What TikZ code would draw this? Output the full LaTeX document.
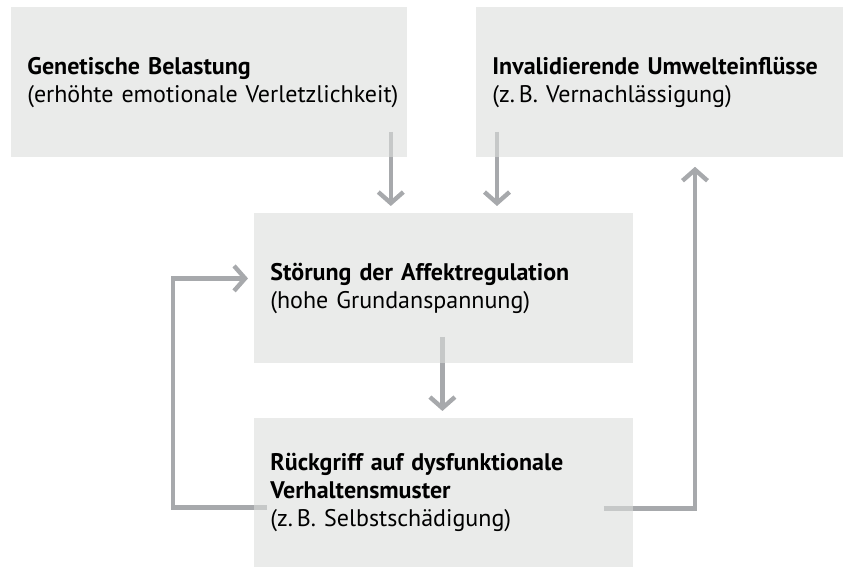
\documentclass[tikz,border=0pt]{standalone}
\usepackage{fontspec}
\setmainfont{PT Sans}
\usetikzlibrary{arrows.meta,calc,backgrounds}
\definecolor{boxgray}{RGB}{220,222,220}
\definecolor{arrowgray}{RGB}{167,169,172}
\tikzset{
	infobox/.style={fill=boxgray, fill opacity=0.6, text opacity=1, anchor=north west,
		align=left, inner xsep=8pt, minimum height=75pt,
		font=\fontsize{12}{14}\selectfont},
	flow/.style={draw=arrowgray, line width=2.2pt, -{Straight Barb[length=5.5pt,width=12.5pt]}}
}

\begin{document}
\begin{tikzpicture}[x=0.5pt, y=0.5pt]
	\useasboundingbox (0,0) rectangle (843,-567);
	% boxes
	\node[infobox, text width=182pt] (gen) at (11,-7)
		{\textbf{Genetische Belastung}\\\mbox{(erhöhte emotionale Verletzlichkeit)}};
	\node[infobox, text width=167.5pt] (inv) at (476,-7)
		{\textbf{Invalidierende Umwelteinflüsse}\\(z.\,B. Vernachlässigung)};
	\node[infobox, text width=173.5pt] (stoer) at (254,-213)
		{\textbf{Störung der Affektregulation}\\(hohe Grundanspannung)};
	\node[infobox, text width=173.5pt, minimum height=74.5pt] (rueck) at (254,-418)
		{\textbf{Rückgriff auf dysfunktionale}\\\textbf{Verhaltensmuster}\\(z.\,B. Selbstschädigung)};
	% arrows
	\begin{scope}[on background layer]
		\coordinate (g1) at ($(gen.south east)+(-17,26)$);
		\coordinate (i1) at ($(inv.south west)+(21,26)$);
		\coordinate (s1) at ($(stoer.south)+(-1.5,27)$);
		\coordinate (r1) at ($(rueck.west)+(13,-14.5)$);
		\coordinate (r2) at ($(rueck.east)+(-30,-15.5)$);
		\draw[flow, shorten >=3.5pt] (g1) -- (g1 |- stoer.north);
		\draw[flow, shorten >=3.5pt] (i1) -- (i1 |- stoer.north);
		\draw[flow, shorten >=3.5pt] (s1) -- (s1 |- rueck.north);
		\draw[flow, shorten >=3pt] (r1) -- ++(-94,0) |- ($(stoer.west)+(0,10)$);
		\draw[flow, shorten >=4.5pt] (r2) -| ($(inv.south west)+(219,0)$);
	\end{scope}
\end{tikzpicture}
\end{document}
